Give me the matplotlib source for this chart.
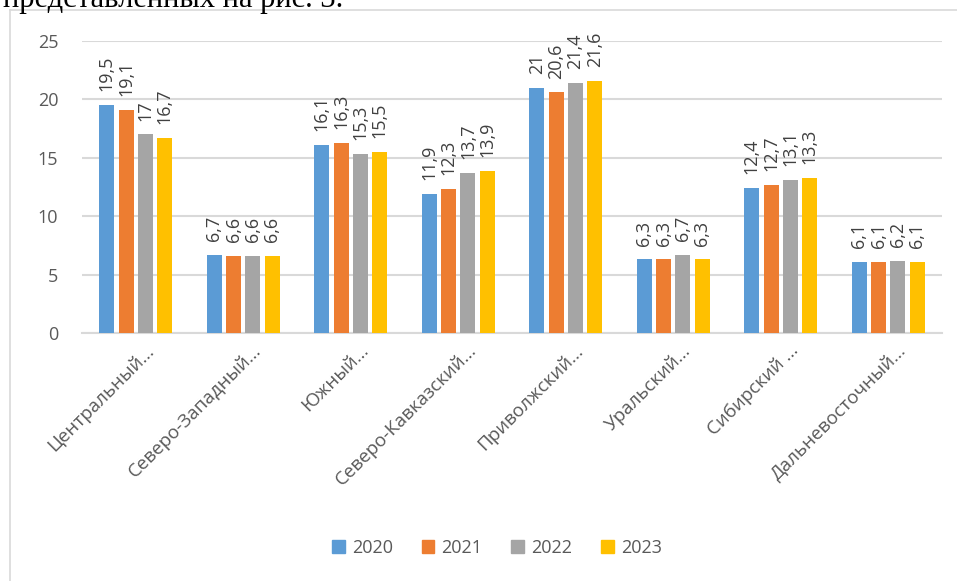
import numpy as np
import matplotlib
matplotlib.use('Agg')
import matplotlib.pyplot as plt
from matplotlib.patches import Patch
import matplotlib.transforms as mtransforms

# regions (labels truncated as in the source picture)
regions = ['Центральный...', 'Северо-Западный...', 'Южный...', 'Северо-Кавказский...',
           'Приволжский...', 'Уральский...', 'Сибирский ...', 'Дальневосточный...']
years = ['2020', '2021', '2022', '2023']
v2020 = [19.5, 6.7, 16.1, 11.9, 21.0, 6.3, 12.4, 6.1]
v2021 = [19.1, 6.6, 16.3, 12.3, 20.6, 6.3, 12.7, 6.1]
v2022 = [17.0, 6.6, 15.3, 13.7, 21.4, 6.7, 13.1, 6.2]
v2023 = [16.7, 6.6, 15.5, 13.9, 21.6, 6.3, 13.3, 6.1]
series = [v2020, v2021, v2022, v2023]
colors = ['#5B9BD5', '#ED7D31', '#A5A5A5', '#FFC000']

txt = '#595959'
plt.rcParams['font.family'] = ['Open Sans', 'DejaVu Sans']

W, H = 957, 581
fig = plt.figure(figsize=(W/100, H/100), dpi=100)
ax = fig.add_axes([82/W, 1-333/H, 860/W, (333-41)/H])

x = np.arange(len(regions))
step = 0.18
width = 0.14
for i, vals in enumerate(series):
    pos = x + (i-1.5)*step
    ax.bar(pos, vals, width, color=colors[i], label=years[i], zorder=3)
    for p, v in zip(pos, vals):
        lab = ('%g' % v).replace('.', ',')
        ax.annotate(lab, (p, v), xytext=(0, 10), textcoords='offset points',
                    rotation=90, ha='center', va='bottom', fontsize=13, color='#404040')

ax.set_xlim(-0.5, len(regions)-0.5)
ax.set_ylim(0, 25)
ax.set_yticks([0, 5, 10, 15, 20, 25])
ax.yaxis.grid(True, color='#D9D9D9', linewidth=1.5, zorder=0)
ax.tick_params(axis='y', length=0, pad=17, labelsize=13, labelcolor=txt)
ax.tick_params(axis='x', length=0)
for s in ['top', 'right', 'left']:
    ax.spines[s].set_visible(False)
ax.spines['bottom'].set_color('#D9D9D9')
ax.spines['bottom'].set_linewidth(1.5)

ax.set_xticks(x)
ax.set_xticklabels(regions, rotation=45, ha='right', va='center',
                   rotation_mode='anchor', fontsize=13.5, color=txt)
off = mtransforms.ScaledTranslation(15/100, -10/100, fig.dpi_scale_trans)
for t in ax.get_xticklabels():
    t.set_transform(t.get_transform() + off)

handles = [Patch(color=c) for c in colors]
fig.legend(handles, years, loc='center', bbox_to_anchor=(497/W, 1-548/H), ncol=4,
           frameon=False, fontsize=13, labelcolor=txt, handlelength=0.7,
           handleheight=0.7, handletextpad=0.4, columnspacing=1.6)

# chart frame
fig.add_artist(plt.Line2D([10/W, 10/W], [0, 1-10/H], color='#D9D9D9', lw=1.2))
fig.add_artist(plt.Line2D([10/W, 1], [1-10/H, 1-10/H], color='#D9D9D9', lw=1.2))

# fragment of the document text above the chart
fig.text(343/W, 1-7/H, 'представленных на рис. 3.', ha='right', va='baseline',
         family='Liberation Serif', fontsize=22, color='black')

fig.savefig('out.png', dpi=100)
